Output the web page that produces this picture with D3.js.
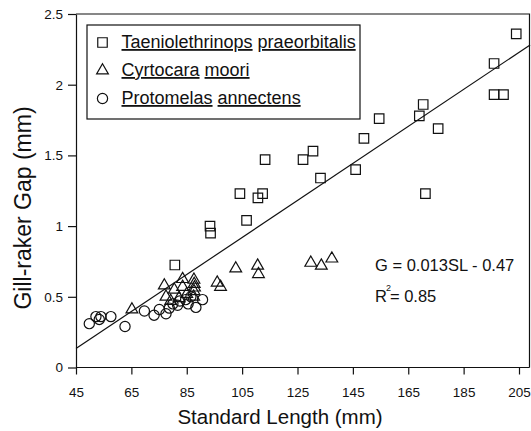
<!DOCTYPE html>
<html><head><meta charset="utf-8">
<script src="https://cdn.jsdelivr.net/npm/d3@7"></script>
<style>
html,body{margin:0;padding:0;background:#fff;}
svg{display:block;font-family:"Liberation Sans",Arial,Helvetica,sans-serif;}
</style></head>
<body>
<svg id="c" width="531" height="431"></svg>
<script>
// ---- data ----
const taeniSL = [80.7, 93.4, 93.6, 104.2, 106.6, 110.7, 112.4, 113.3, 127, 130.6, 133.3, 146, 149, 154.5, 169, 170.4, 171.2, 175.8, 196, 196, 199.4, 204];
const taeniG  = [0.725, 1.00, 0.95, 1.23, 1.04, 1.20, 1.23, 1.47, 1.47, 1.53, 1.34, 1.40, 1.62, 1.76, 1.78, 1.86, 1.23, 1.69, 2.15, 1.93, 1.93, 2.36];
const cyrtoSL = [65.2, 76.9, 77.5, 79.2, 80.5, 82.2, 83.5, 83.5, 85.0, 87.6, 87.7, 87.8, 87.6, 87.5, 96.0, 97.2, 102.7, 110.6, 110.9, 129.8, 133.6, 137.4];
const cyrtoG  = [0.41, 0.58, 0.50, 0.47, 0.55, 0.49, 0.625, 0.57, 0.52, 0.62, 0.59, 0.565, 0.54, 0.50, 0.60, 0.57, 0.70, 0.72, 0.66, 0.74, 0.72, 0.77];
const protoSL = [49.8, 52.2, 53.4, 54.0, 57.6, 62.7, 69.7, 73.2, 75.1, 77.5, 78.7, 80.0, 81.7, 82.5, 84.6, 85.5, 86.5, 88.3, 90.7];
const protoG  = [0.31, 0.36, 0.34, 0.36, 0.36, 0.29, 0.40, 0.37, 0.41, 0.38, 0.42, 0.45, 0.44, 0.47, 0.48, 0.45, 0.50, 0.425, 0.48];
const fitSL = [45, 209];
const fitG  = [0.134, 2.281];
const xTicks = [45, 65, 85, 105, 125, 145, 165, 185, 205];
const yTicks = [0, 0.5, 1, 1.5, 2, 2.5];
const yTickLabels = ["0", "0.5", "1", "1.5", "2", "2.5"];
const legendGenus = ["Taeniolethrinops", "Cyrtocara", "Protomelas"];
const legendSpecies = ["praeorbitalis", "moori", "annectens"];
const legendShapes = ["square", "triangle", "circle"];
const xTitle = "Standard Length (mm)";
const yTitle = "Gill-raker Gap (mm)";
const eqText = "G = 0.013SL - 0.47";
const r2Text = "= 0.85";

// ---- layout ----
const svg = d3.select("#c");
const x = d3.scaleLinear().domain([45, 205]).range([76, 519]);
const y = d3.scaleLinear().domain([0, 2.5]).range([367.5, 14]);
const frameRight = 529.5;
const ink = "#111";

const shapeGen = {
  square: d3.symbol().type(d3.symbolSquare).size(90),
  triangle: d3.symbol().type(d3.symbolTriangle).size(60),
  circle: d3.symbol().type(d3.symbolCircle).size(82)
};

// frame (top & right)
svg.append("path")
  .attr("d", `M${x(45)},${y(2.5)}H${frameRight}V${y(0)}`)
  .attr("fill", "none").attr("stroke", ink).attr("stroke-width", 1.2);

// axes
const gx = svg.append("g").attr("transform", `translate(0,${y(0)})`)
  .call(d3.axisBottom(x).tickValues(xTicks).tickSize(7).tickSizeOuter(0).tickFormat(d3.format("d")));
gx.select(".domain").attr("d", `M${x(45)},0H${frameRight}`);
gx.selectAll("text").attr("y", 29.8).attr("dy", 0).style("font-size", "13.5px");

const gy = svg.append("g").attr("transform", `translate(${x(45)},0)`)
  .call(d3.axisLeft(y).tickValues(yTicks).tickSize(8).tickSizeOuter(0).tickFormat((d, i) => yTickLabels[i]));
gy.selectAll("text").attr("x", -13).style("font-size", "13.5px");

[gx, gy].forEach(g => {
  g.selectAll("path,line").attr("stroke", ink).attr("stroke-width", 1.2);
  g.selectAll("text").attr("fill", ink).style("font-family", "'Liberation Sans',Arial,sans-serif");
});

// regression line
svg.append("line")
  .attr("x1", x(fitSL[0])).attr("y1", y(fitG[0]))
  .attr("x2", x(fitSL[1])).attr("y2", y(fitG[1]))
  .attr("stroke", ink).attr("stroke-width", 1.2);

// points
function drawSeries(sl, g, shape) {
  svg.append("g").selectAll("path").data(sl.map((d, i) => [d, g[i]])).join("path")
    .attr("d", shapeGen[shape]())
    .attr("transform", d => `translate(${x(d[0])},${y(d[1])})`)
    .attr("fill", "none").attr("stroke", ink).attr("stroke-width", 1.2);
}
drawSeries(protoSL, protoG, "circle");
drawSeries(cyrtoSL, cyrtoG, "triangle");
drawSeries(taeniSL, taeniG, "square");

// legend
svg.append("rect").attr("x", 87).attr("y", 25).attr("width", 273).attr("height", 94)
  .attr("fill", "#fff").attr("stroke", ink).attr("stroke-width", 1.2);
legendGenus.forEach((gname, i) => {
  const cy = 42.5 + i * 28;
  svg.append("path").attr("d", shapeGen[legendShapes[i]]())
    .attr("transform", `translate(102.5,${cy})`)
    .attr("fill", "none").attr("stroke", ink).attr("stroke-width", 1.2);
  const t = svg.append("text").attr("x", 121.5).attr("y", cy + 5.5)
    .style("font-size", "18px").attr("fill", ink);
  t.append("tspan").style("text-decoration", "underline").text(gname);
  t.append("tspan").text(" ");
  t.append("tspan").style("text-decoration", "underline").text(legendSpecies[i]);
});

// equation
svg.append("text").attr("x", 375).attr("y", 271).style("font-size", "16.5px").attr("fill", ink).text(eqText);
const r2 = svg.append("text").attr("x", 375).attr("y", 301.5).style("font-size", "16.5px").attr("fill", ink);
r2.append("tspan").text("R");
r2.append("tspan").attr("dy", -11).attr("dx", -1).style("font-size", "9px").text("2");
r2.append("tspan").attr("dy", 11).attr("dx", -1).text(r2Text);

// axis titles
svg.append("text").attr("x", 280).attr("y", 424).attr("text-anchor", "middle")
  .style("font-size", "20.5px").attr("fill", ink).text(xTitle);
svg.append("text").attr("transform", "translate(31,208) rotate(-90)").attr("text-anchor", "middle")
  .style("font-size", "23px").attr("fill", ink).text(yTitle);
</script>
</body></html>
